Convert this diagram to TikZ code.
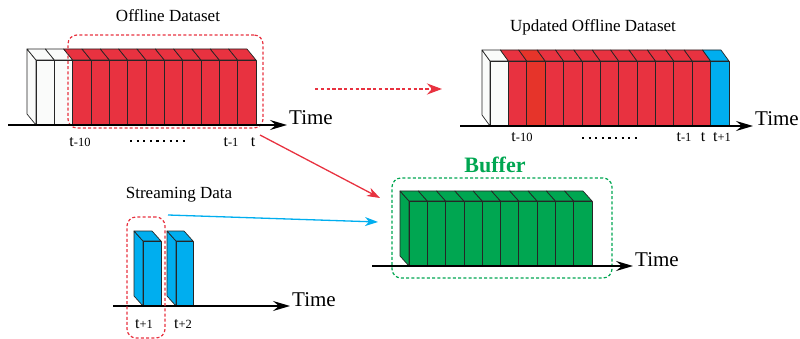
\documentclass[tikz,border=0pt]{standalone}
\usepackage{fontspec}
\setmainfont{Liberation Serif}
\usetikzlibrary{arrows.meta,positioning,calc}
\definecolor{dsred}{RGB}{232,50,64}
\definecolor{dsorange}{RGB}{230,52,42}
\definecolor{dsblue}{RGB}{0,174,239}
\definecolor{dsgreen}{RGB}{0,166,81}
\definecolor{dswhite}{RGB}{250,251,250}

\begin{document}
\begin{tikzpicture}[x=1pt,y=-1pt,
    slab/.style={draw=black!85, line width=0.7pt, line join=round},
    timeaxis/.style={line width=1.6pt, -{Stealth[length=17pt,width=10pt,inset=6pt]}},
    timelabel/.style={anchor=base west, inner sep=2pt, font=\fontsize{21}{24}\selectfont},
    heading/.style={anchor=base, inner sep=0pt, font=\fontsize{17}{20}\selectfont},
    stamp/.style={anchor=base, inner sep=0pt, font=\fontsize{16}{18}\selectfont},
    dsframe/.style={draw, line width=1.2pt, rounded corners=9pt, dash pattern=on 3pt off 2.2pt, inner sep=0pt},
    flowarrow/.style={line width=1.3pt, -{Stealth[length=13pt,width=9pt,inset=4pt]}},
    gap/.style={line width=2pt, dash pattern=on 2.2pt off 4.4pt}
  ]
\useasboundingbox (0,0) rectangle (800,339);

% offline dataset
\node[heading] (off-title) at (168,22) {Offline Dataset};
\draw[slab, fill=dswhite] (36,60) -- ++(-9,-11) -- ++(0,65) -- ++(9,11) -- cycle;
\foreach \c [count=\i from 0] in {dswhite,dswhite,dsred,dsred,dsred,dsred,dsred,dsred,dsred,dsred,dsred,dsred} {
  \pgfmathsetmacro\xa{36+18.33*\i}
  \draw[slab, fill=\c] (\xa,60) -- ++(-9,-11) -- ++(18.33,0) -- ++(9,11) -- cycle;
  \draw[slab, fill=\c] (\xa,60) rectangle ++(18.33,65);
}
\node[dsframe, draw=dsred, minimum width=195pt, minimum height=93pt] (off-frame) at (165.5,81.5) {};
\coordinate (off-start) at (8,125);
\node[timelabel] (off-time) at (287,125) {Time};
\draw[timeaxis] (off-start) -- (off-start -| off-time.west);
\node[stamp] (off-t10) at (80,147) {t{\fontsize{12.5}{14}\selectfont -10}};
\node[stamp] (off-t1) at (231,147) {t{\fontsize{12.5}{14}\selectfont -1}};
\node[stamp] (off-t) at (253,147) {t};
\coordinate (off-gapl) at (130,141);
\coordinate (off-gapr) at (185,141);
\draw[gap] (off-gapl) -- (off-gapr);

% updated offline dataset
\node[heading] (upd-title) at (593,32) {Updated Offline Dataset};
\draw[slab, fill=dswhite] (490,61) -- ++(-8,-11) -- ++(0,65) -- ++(8,11) -- cycle;
\foreach \c [count=\i from 0] in {dswhite,dsred,dsorange,dsred,dsred,dsred,dsred,dsred,dsred,dsred,dsred,dsred,dsblue} {
  \pgfmathsetmacro\xa{490+18.38*\i}
  \draw[slab, fill=\c] (\xa,61) -- ++(-8,-11) -- ++(18.38,0) -- ++(8,11) -- cycle;
  \draw[slab, fill=\c] (\xa,61) rectangle ++(18.38,65);
}
\coordinate (upd-start) at (460,126);
\node[timelabel] (upd-time) at (753,126) {Time};
\draw[timeaxis] (upd-start) -- (upd-start -| upd-time.west);
\node[stamp] (upd-t10) at (522,142) {t{\fontsize{12.5}{14}\selectfont -10}};
\node[stamp] (upd-t1) at (684,142) {t{\fontsize{12.5}{14}\selectfont -1}};
\node[stamp] (upd-t) at (703,142) {t};
\node[stamp] (upd-t+1) at (722,142) {t{\fontsize{12.5}{14}\selectfont +1}};
\coordinate (upd-gapl) at (582,138);
\coordinate (upd-gapr) at (637,138);
\draw[gap] (upd-gapl) -- (upd-gapr);

% buffer
\node[heading, font=\fontsize{22}{26}\selectfont\bfseries, text=dsgreen] (buf-title) at (495,173) {Buffer};
\draw[slab, fill=dsgreen] (409,201) -- ++(-9,-10) -- ++(0,65) -- ++(9,10) -- cycle;
\foreach \i in {0,...,9} {
  \pgfmathsetmacro\xa{409+18.3*\i}
  \draw[slab, fill=dsgreen] (\xa,201) -- ++(-9,-10) -- ++(18.3,0) -- ++(9,10) -- cycle;
  \draw[slab, fill=dsgreen] (\xa,201) rectangle ++(18.3,65);
}
\node[dsframe, draw=dsgreen, minimum width=220pt, minimum height=100pt] (buf-frame) at (502,228) {};
\coordinate (buf-start) at (372,266);
\node[timelabel] (buf-time) at (633,266) {Time};
\draw[timeaxis] (buf-start) -- (buf-start -| buf-time.west);

% streaming data
\node[heading] (str-title) at (179,199) {Streaming Data};
\foreach \xa/\w in {143/18,176/17} {
  \draw[slab, fill=dsblue] (\xa,241) -- ++(-9,-10) -- ++(0,65) -- ++(9,10) -- cycle;
  \draw[slab, fill=dsblue] (\xa,241) -- ++(-9,-10) -- ++(\w,0) -- ++(9,10) -- cycle;
  \draw[slab, fill=dsblue] (\xa,241) rectangle ++(\w,65);
}
\coordinate (str-start) at (113,306);
\node[timelabel] (str-time) at (290,306) {Time};
\draw[timeaxis] (str-start) -- (str-start -| str-time.west);
\node[stamp] (str-t+1) at (144,328) {t{\fontsize{12.5}{14}\selectfont +1}};
\node[stamp] (str-t+2) at (183,328) {t{\fontsize{12.5}{14}\selectfont +2}};
\node[dsframe, draw=dsred, minimum width=38pt, minimum height=121pt] (str-frame) at (146,277.5) {};

% flows between the parts
\coordinate (upd-from) at (315,89);
\coordinate (upd-to) at (442,89);
\draw[flowarrow, dsred, line width=2.8pt, dash pattern=on 3.3pt off 2.5pt,
      -{Stealth[length=15pt,width=11pt,inset=5pt]}] (upd-from) -- (upd-to);
\coordinate (off-from) at (260,135);
\coordinate (buf-in1) at (380,198);
\draw[flowarrow, dsred] (off-from) -- (buf-in1);
\coordinate (str-from) at (168,215);
\coordinate (buf-in2) at (378,222);
\draw[flowarrow, dsblue] (str-from) -- (buf-in2);
\end{tikzpicture}
\end{document}
